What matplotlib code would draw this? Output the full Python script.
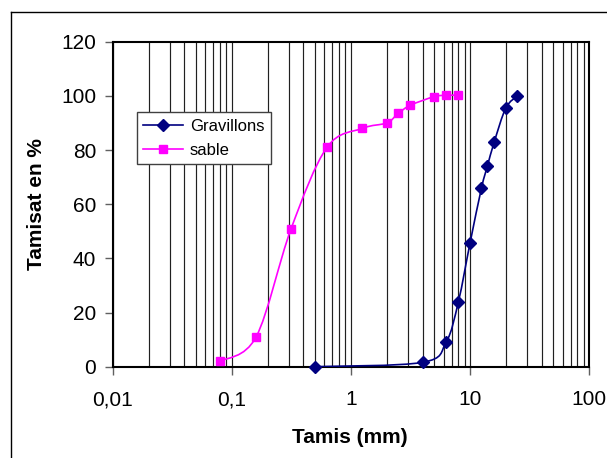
import numpy as np
import matplotlib
matplotlib.use('Agg')
import matplotlib.pyplot as plt
from matplotlib.path import Path
from matplotlib.patches import PathPatch
from matplotlib.lines import Line2D
from matplotlib.ticker import FixedLocator, LogLocator, NullFormatter

plt.rcParams['font.family'] = ['Liberation Sans', 'DejaVu Sans']

# sieve sizes (mm) and passing percentages
grav_mm   = [0.5, 4, 6.3, 8, 10, 12.5, 14, 16, 20, 25]
grav_pct  = [0, 1.6, 9, 24, 45.5, 66, 74, 83, 95.5, 100]
sable_mm  = [0.08, 0.16, 0.315, 0.63, 1.25, 2, 2.5, 3.15, 5, 6.3, 8]
sable_pct = [2, 11, 51, 81, 88, 90, 93.5, 96.5, 99.7, 100.2, 100.2]

x_ticks  = [0.01, 0.1, 1, 10, 100]
x_labels = ['0,01', '0,1', '1', '10', '100']
y_ticks  = [0, 20, 40, 60, 80, 100, 120]


def smooth_path(xs, ys):
  '''Excel-like smoothed line: cubic bezier between the points,
  control points done in log-x / linear-y space.'''
  p = np.column_stack([np.log10(xs), ys])
  p = np.vstack([p[0], p, p[-1]])
  verts = [p[1]]
  codes = [Path.MOVETO]
  for i in range(1, len(p) - 2):
    c1 = p[i] + (p[i + 1] - p[i - 1]) / 6.0
    c2 = p[i + 1] - (p[i + 2] - p[i]) / 6.0
    verts += [c1, c2, p[i + 1]]
    codes += [Path.CURVE4] * 3
  verts = np.array(verts)
  verts[:, 0] = 10 ** verts[:, 0]
  return Path(verts, codes)


fig = plt.figure(figsize=(6.07, 4.58), dpi=100)
ax = fig.add_axes([0.1857, 0.1994, 0.7847, 0.7096])

ax.set_xscale('log')
ax.set_xlim(0.01, 100)
ax.set_ylim(0, 120)

# vertical grid at every decade and every sub-division
ax.xaxis.set_minor_locator(LogLocator(base=10, subs=np.arange(2, 10)))
ax.xaxis.set_minor_formatter(NullFormatter())
ax.xaxis.set_major_locator(FixedLocator(x_ticks))
ax.set_xticks(x_ticks, x_labels)
ax.set_yticks(y_ticks)
ax.grid(True, axis='x', which='both', color='#202020', lw=0.85)
ax.set_axisbelow(True)

ax.tick_params(axis='x', which='major', direction='out', length=6, width=1,
               color='#606060', pad=11, labelsize=15)
ax.tick_params(axis='x', which='minor', length=0)
ax.tick_params(axis='y', direction='out', length=6, width=1,
               color='#606060', pad=6, labelsize=15)
for s in ax.spines.values():
  s.set_linewidth(1.5)
  s.set_color('black')

navy = '#000080'
pink = '#FF00FF'

ax.add_patch(PathPatch(smooth_path(grav_mm, grav_pct), fc='none',
                       ec=navy, lw=1.2, zorder=3))
ax.add_patch(PathPatch(smooth_path(sable_mm, sable_pct), fc='none',
                       ec=pink, lw=1.2, zorder=3))
ax.plot(grav_mm, grav_pct, ls='none', marker='D', ms=6.5, color=navy,
        zorder=4, clip_on=False)
ax.plot(sable_mm, sable_pct, ls='none', marker='s', ms=6, color=pink,
        zorder=4, clip_on=False)

handles = [Line2D([], [], color=navy, lw=1.2, marker='D', ms=6.5),
           Line2D([], [], color=pink, lw=1.2, marker='s', ms=6)]
leg = ax.legend(handles, ['Gravillons', 'sable'], loc='upper left',
                bbox_to_anchor=(0.05, 0.784), borderaxespad=0,
                fontsize=12, fancybox=False, framealpha=1,
                edgecolor='#404040', handlelength=2.4, handletextpad=0.4,
                labelspacing=0.55, borderpad=0.4)
leg.get_frame().set_linewidth(1)

ax.set_xlabel('Tamis (mm)', fontsize=15, fontweight='bold', va='top')
ax.xaxis.set_label_coords(0.497, -0.19)
ax.set_ylabel('Tamisat en %', fontsize=15, fontweight='bold')
ax.yaxis.set_label_coords(-0.14, 0.5)

# outer chart-area frame (only left and top visible)
fig.add_artist(Line2D([0.0173, 0.0173], [0, 0.9738], color='black',
                      lw=1, transform=fig.transFigure))
fig.add_artist(Line2D([0.0173, 1], [0.9738, 0.9738], color='black',
                      lw=1, transform=fig.transFigure))

fig.savefig('out.png', dpi=100)
